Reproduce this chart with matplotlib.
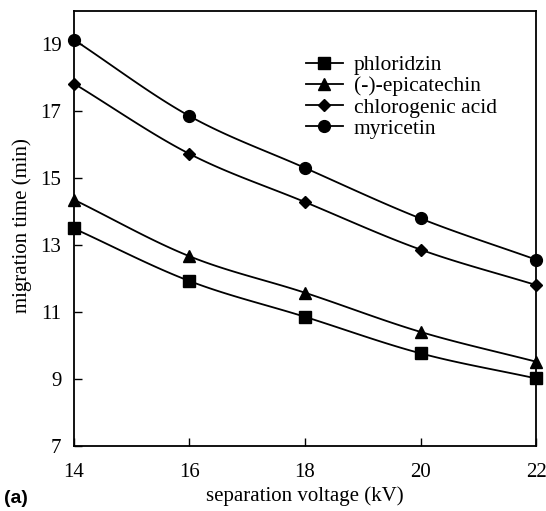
import numpy as np
import matplotlib
matplotlib.use("Agg")
import matplotlib.pyplot as plt

voltage = [14, 16, 18, 20, 22]
phloridzin = [13.50, 11.93, 10.86, 9.77, 9.02]
epicatechin = [14.36, 12.67, 11.58, 10.41, 9.52]
chlorogenic = [17.83, 15.73, 14.29, 12.87, 11.81]
myricetin = [19.14, 16.86, 15.31, 13.80, 12.57]
labels = ["phloridzin", "(-)-epicatechin", "chlorogenic acid", "myricetin"]
markers = ["s", "^", "D", "o"]
msizes = [8, 8, 6, 8.5]
yticks = [7, 9, 11, 13, 15, 17, 19]
xticks = [14, 16, 18, 20, 22]


def smooth(x, y, n=30):
    # Catmull-Rom style smoothing of the drawn line (like Excel smoothed lines)
    x = np.asarray(x, float); y = np.asarray(y, float)
    px = np.concatenate([[2*x[0]-x[1]], x, [2*x[-1]-x[-2]]])
    py = np.concatenate([[2*y[0]-y[1]], y, [2*y[-1]-y[-2]]])
    ox, oy = [], []
    t = np.linspace(0, 1, n)
    for i in range(1, len(px)-2):
        for arr, out in ((px, ox), (py, oy)):
            p0, p1, p2, p3 = arr[i-1], arr[i], arr[i+1], arr[i+2]
            out.extend(0.5*((2*p1) + (-p0+p2)*t + (2*p0-5*p1+4*p2-p3)*t**2 + (-p0+3*p1-3*p2+p3)*t**3))
    return np.array(ox), np.array(oy)


plt.rcParams['font.family'] = ['Liberation Serif', 'DejaVu Serif']
fig = plt.figure(figsize=(5.46, 5.11), dpi=100)
ax = fig.add_axes([0.1355, 0.1272, 0.8462, 0.8513])

series = [phloridzin, epicatechin, chlorogenic, myricetin]
for ys, lab, mk, ms in zip(series, labels, markers, msizes):
    sx, sy = smooth(voltage, ys)
    ax.plot(sx, sy, color='black', lw=1.3, zorder=2)
    ax.plot(voltage, ys, linestyle='none', marker=mk, ms=ms, color='black', zorder=3, clip_on=False)
    ax.plot([], [], color='black', lw=1.3, marker=mk, ms=ms, label=lab)

ax.set_xlim(14, 22)
ax.set_ylim(7, 20)
ax.set_xticks(xticks)
ax.set_yticks(yticks)
ax.tick_params(direction='in', length=6, width=1, labelsize=15)
ax.tick_params(axis='x', pad=12.5)
ax.tick_params(axis='y', pad=9)
for s in ax.spines.values():
    s.set_linewidth(1.3)
ax.set_xlabel("separation voltage (kV)", fontsize=15, labelpad=3)
ax.set_ylabel("migration time (min)", fontsize=15)
ax.yaxis.set_label_coords(-0.09, 0.506)

leg = ax.legend(loc='upper left', bbox_to_anchor=(0.483, 0.918), frameon=False,
                fontsize=15.5, handlelength=1.72, handletextpad=0.5, labelspacing=0.05,
                borderaxespad=0)

fig.text(0.008, 0.024, "(a)", fontsize=14, fontweight='bold', family='Liberation Sans',
         va='center')

fig.savefig("out.png", dpi=100)
